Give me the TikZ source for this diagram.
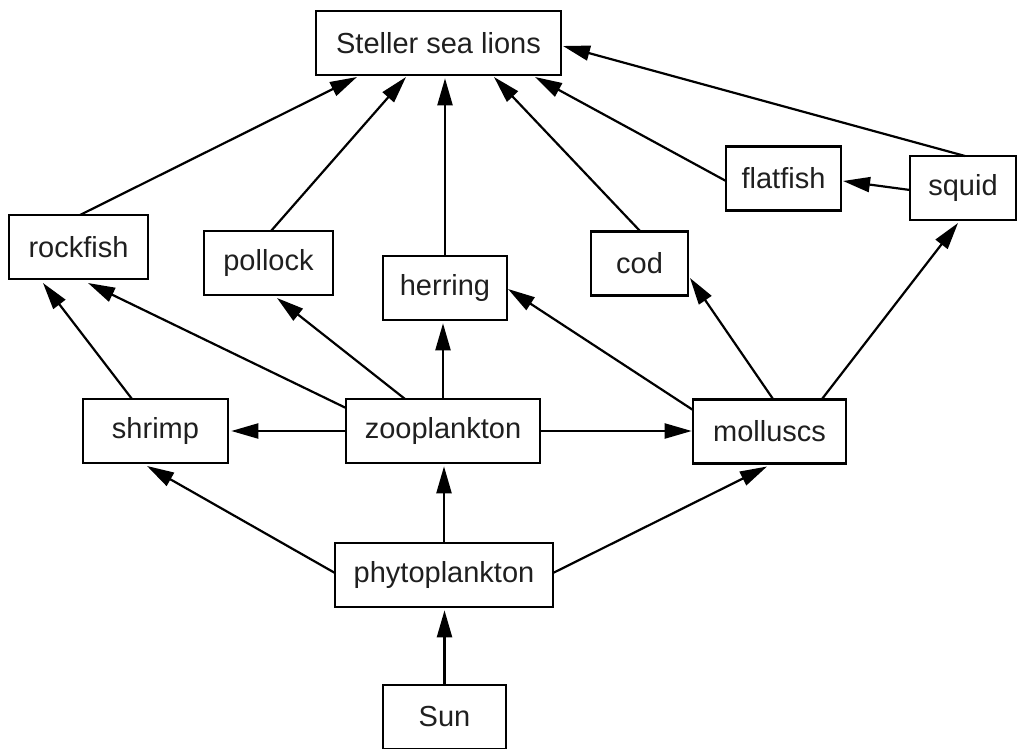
\documentclass[tikz,border=0pt]{standalone}
\usepackage{fontspec}
\setmainfont{Liberation Sans}
\usetikzlibrary{arrows.meta,calc}
\tikzset{
  box/.style={draw=black, line width=2.6pt, rectangle, inner sep=0pt, minimum height=64pt, font=\fontsize{29}{34}\selectfont, text=black!88},
  arr/.style={line width=2.2pt, -{Triangle[length=27pt,width=15pt]}}
}
\begin{document}
\begin{tikzpicture}[x=1pt,y=-1pt]
\useasboundingbox (0,0) rectangle (1017,749);
\node[box, minimum width=245pt] (sea) at (438.5,43) {Steller sea lions};
\node[box, minimum width=139pt] (rockfish) at (78.5,247) {rockfish};
\node[box, minimum width=129pt] (pollock) at (268.5,263) {pollock};
\node[box, minimum width=124pt] (herring) at (445,288) {herring};
\node[box, minimum width=97pt] (cod) at (639.5,263.5) {cod};
\node[box, minimum width=115pt] (flatfish) at (783.5,178.5) {flatfish};
\node[box, minimum width=106pt] (squid) at (963,188) {squid};
\node[box, minimum width=145pt] (shrimp) at (155.5,431) {shrimp};
\node[box, minimum width=194pt] (zoo) at (443,431) {zooplankton};
\node[box, minimum width=153pt] (molluscs) at (769.5,431.5) {molluscs};
\node[box, minimum width=218pt] (phyto) at (444,575) {phytoplankton};
\node[box, minimum width=123pt] (sun) at (444.5,717) {Sun};

\draw[arr] ($(rockfish)+(1.5,-32)$) -- ($(sea)+(-81.5,34)$);
\draw[arr] ($(pollock)+(2.5,-32)$) -- ($(sea)+(-32.5,34)$);
\draw[arr] (herring.north) -- ($(herring.north |- sea.south)+(0,2)$);
\draw[arr] ($(cod)+(0.5,-32.5)$) -- ($(sea)+(55.5,34)$);
\draw[arr] ($(flatfish)+(-57.5,2.5)$) -- ($(sea)+(96.5,34)$);
\draw[arr] ($(squid)+(2,-32)$) -- ($(sea)+(124.5,3)$);
\draw[arr] ($(squid)+(-53,2)$) -- ($(flatfish)+(59.5,2.5)$);
\draw[arr] ($(shrimp)+(-23.5,-32)$) -- ($(rockfish)+(-35.5,36)$);
\draw[arr] ($(zoo)+(-97,-23)$) -- ($(rockfish)+(9.5,36)$);
\draw[arr] ($(zoo)+(-38,-32)$) -- ($(pollock)+(8.5,35)$);
\draw[arr] (zoo.north) -- ($(zoo.north |- herring.south)+(0,2)$);
\draw[arr] (zoo.west) -- ($(shrimp.east)+(2,0)$);
\draw[arr] (zoo.east) -- (molluscs.west |- zoo.east);
\draw[arr] ($(molluscs)+(-76.5,-21.5)$) -- ($(herring)+(63,1)$);
\draw[arr] ($(molluscs)+(3.5,-32.5)$) -- ($(cod)+(50.5,14.5)$);
\draw[arr] ($(molluscs)+(52.5,-32.5)$) -- ($(squid)+(-5,35)$);
\draw[arr] ($(phyto)+(-109,-2)$) -- ($(shrimp)+(-8.5,35)$);
\draw[arr] (phyto.north) -- ($(phyto.north |- zoo.south)+(0,2)$);
\draw[arr] ($(phyto)+(109,-2)$) -- ($(molluscs)+(-2.5,35)$);
\draw[arr] (sun.north) -- ($(sun.north |- phyto.south)+(0,2)$);
\end{tikzpicture}
\end{document}
